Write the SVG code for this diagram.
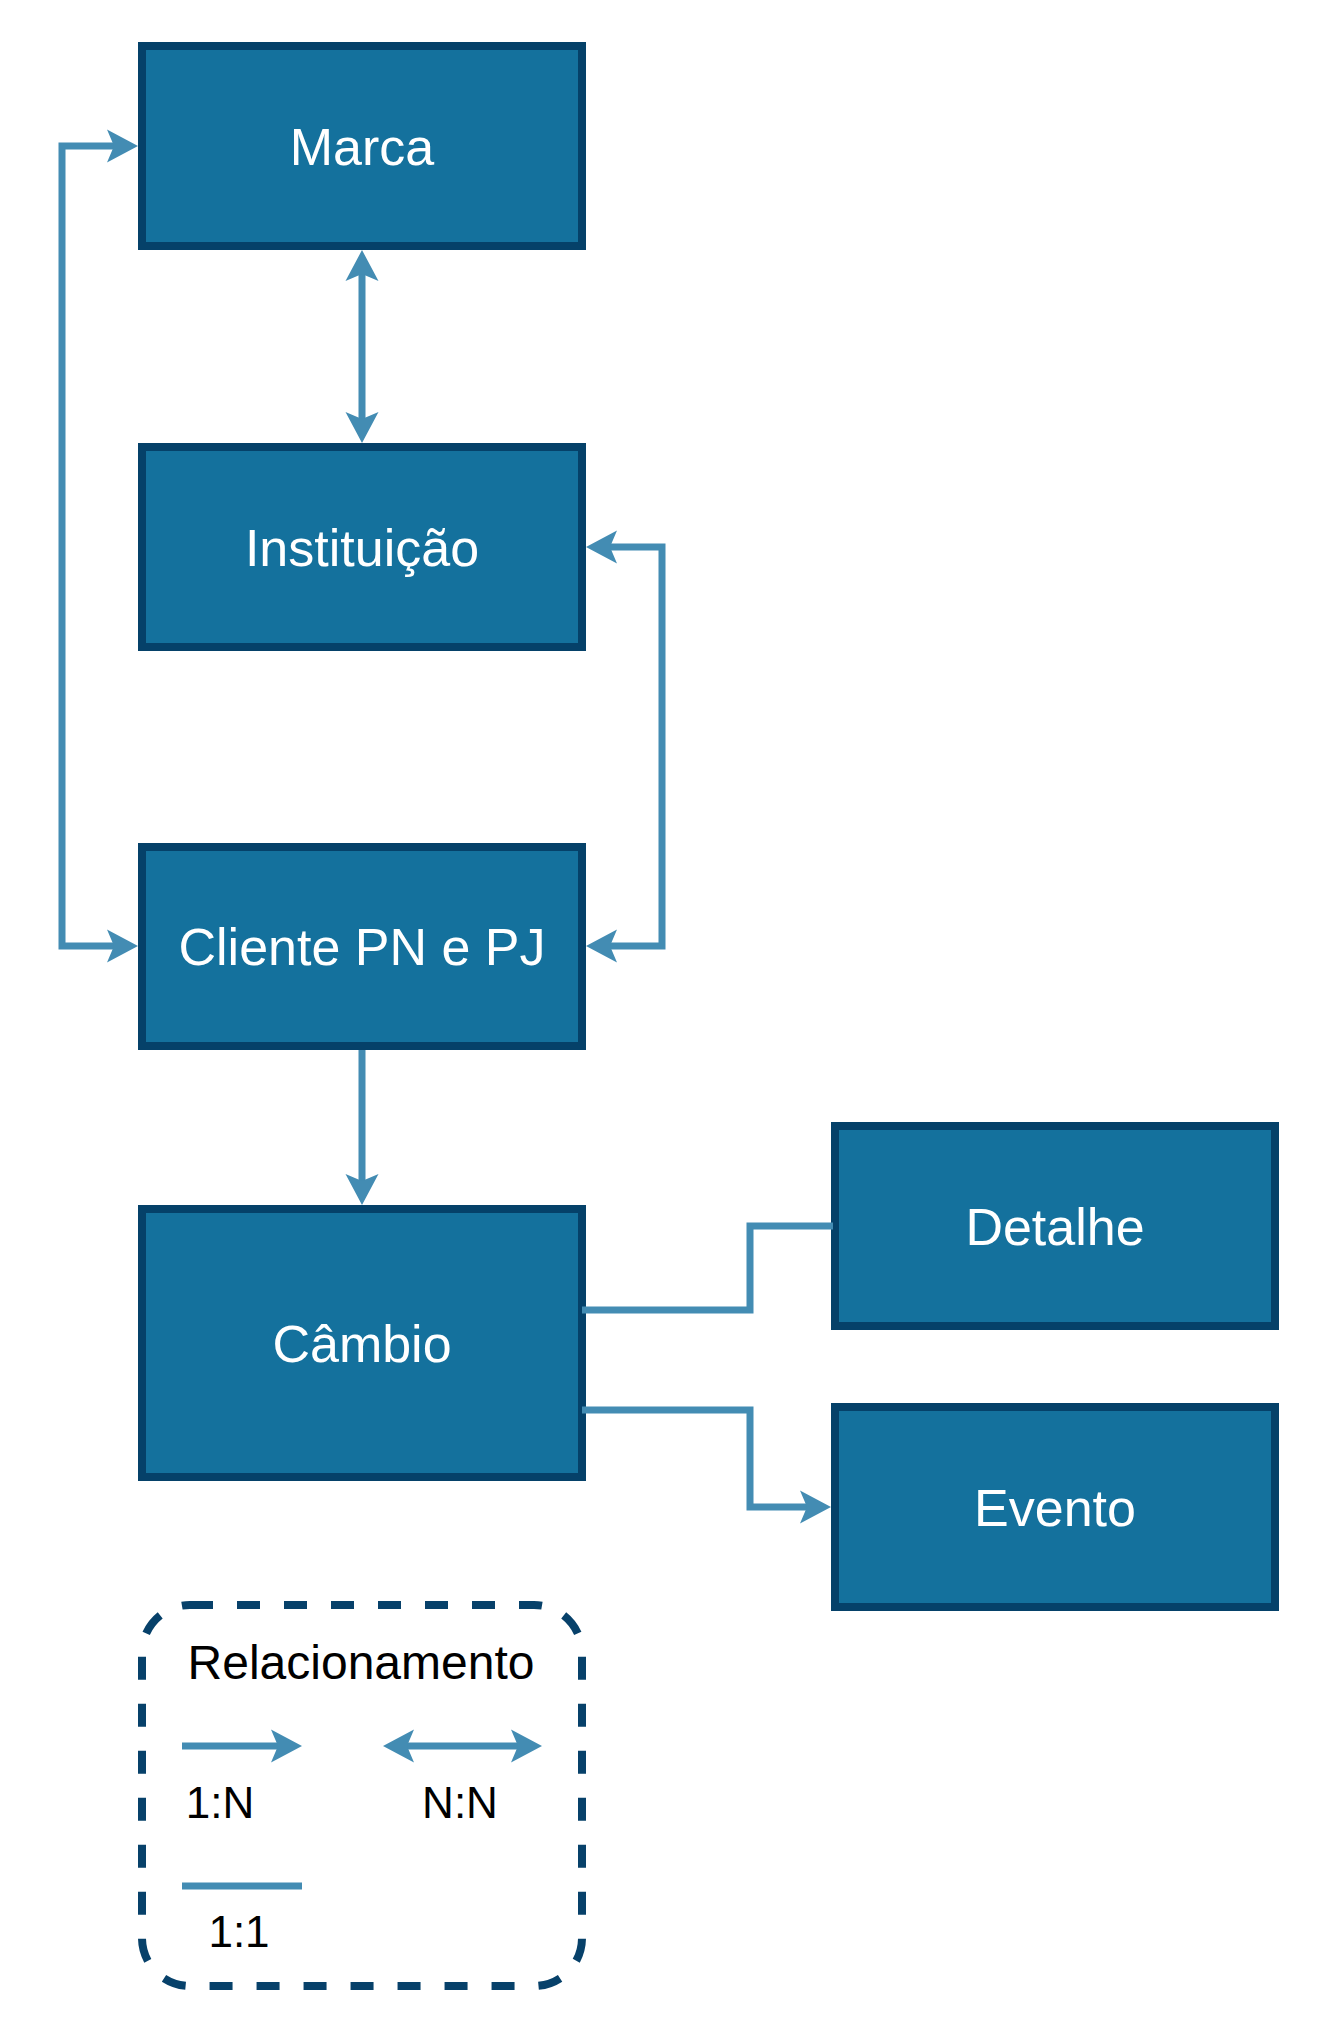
<svg xmlns="http://www.w3.org/2000/svg" width="1320" height="2036" viewBox="0 0 1320 2036">
<style>
.box{fill:#14719d;stroke:#054169;stroke-width:8}
.lbl{font-family:"Liberation Sans",Arial,Helvetica,sans-serif;font-size:52px;fill:#ffffff;text-anchor:middle}
.edge{fill:none;stroke:#438cb3;stroke-width:7}
.leg{font-family:"Liberation Sans",Arial,Helvetica,sans-serif;fill:#000000;text-anchor:middle}
</style>
<defs>
<marker id="arr" markerUnits="userSpaceOnUse" markerWidth="40" markerHeight="40" refX="0" refY="0" orient="auto-start-reverse" overflow="visible">
<path d="M8,0 L-23,-16.5 L-16,0 L-23,16.5 Z" fill="#438cb3"/>
</marker>
</defs>
<rect width="1320" height="2036" fill="#ffffff"/>
<g id="marca"><rect class="box" x="142" y="46" width="440" height="200"/><text class="lbl" x="362" y="164.5">Marca</text></g>
<g id="instituicao"><rect class="box" x="142" y="447" width="440" height="200"/><text class="lbl" x="362" y="565.5">Instituição</text></g>
<g id="cliente"><rect class="box" x="142" y="847" width="440" height="199"/><text class="lbl" x="362" y="965">Cliente PN e PJ</text></g>
<g id="cambio"><rect class="box" x="142" y="1209" width="440" height="268"/><text class="lbl" x="362" y="1361.5">Câmbio</text></g>
<g id="detalhe"><rect class="box" x="835" y="1126" width="440" height="200"/><text class="lbl" x="1055" y="1244.5">Detalhe</text></g>
<g id="evento"><rect class="box" x="835" y="1407" width="440" height="200"/><text class="lbl" x="1055" y="1525.5">Evento</text></g>
<g id="connectors">
<path class="edge" d="M362,258 L362,435" marker-start="url(#arr)" marker-end="url(#arr)"/>
<path class="edge" d="M130,146 L62,146 L62,946 L130,946" marker-start="url(#arr)" marker-end="url(#arr)"/>
<path class="edge" d="M594,547 L662,547 L662,946 L594,946" marker-start="url(#arr)" marker-end="url(#arr)"/>
<path class="edge" d="M362,1050 L362,1197" marker-end="url(#arr)"/>
<path class="edge" d="M582,1310 L750,1310 L750,1226 L833,1226"/>
<path class="edge" d="M582,1410 L750,1410 L750,1507 L823,1507" marker-end="url(#arr)"/>
</g>
<g id="legenda">
<rect x="142" y="1605" width="440" height="381" rx="48" ry="48" fill="none" stroke="#07416a" stroke-width="8" stroke-dasharray="23 24"/>
<text class="leg" x="361" y="1679" font-size="48">Relacionamento</text>
<path class="edge" d="M182,1746 L294,1746" marker-end="url(#arr)"/>
<path class="edge" d="M391,1746 L534,1746" marker-start="url(#arr)" marker-end="url(#arr)"/>
<path class="edge" d="M182,1886 L302,1886"/>
<text class="leg" x="220" y="1818" font-size="44">1:N</text>
<text class="leg" x="460" y="1818" font-size="44">N:N</text>
<text class="leg" x="239" y="1947" font-size="44">1:1</text>
</g>
</svg>
